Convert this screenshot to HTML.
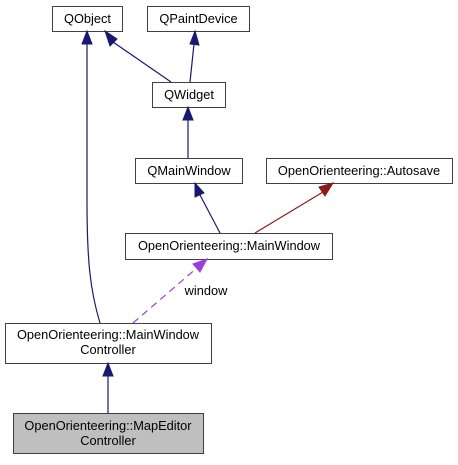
<!DOCTYPE html>
<html><head><style>
body{margin:0;background:#fff;width:458px;height:460px;overflow:hidden}
svg text{font-family:"Liberation Sans",sans-serif;font-size:12.8px;fill:#000}
</style></head><body>
<svg width="458" height="460" viewBox="0 0 458 460">
<g fill="#fff" stroke="#404040" stroke-width="1">
<rect x="52.5" y="6.5" width="70" height="25"/>
<rect x="147.5" y="6.5" width="102" height="25"/>
<rect x="152.5" y="82.5" width="73" height="25"/>
<rect x="135.5" y="158.5" width="107" height="25"/>
<rect x="266.5" y="158.5" width="186" height="25"/>
<rect x="125.5" y="233.5" width="207" height="26"/>
<rect x="5.5" y="323.5" width="206" height="40"/>
<rect x="13.5" y="413.5" width="190" height="40" fill="#bfbfbf"/>
</g>
<g text-anchor="middle">
<text x="87.5" y="23">QObject</text>
<text x="198.5" y="23">QPaintDevice</text>
<text x="189" y="99">QWidget</text>
<text x="189" y="175">QMainWindow</text>
<text x="359" y="175">OpenOrienteering::Autosave</text>
<text x="229" y="250">OpenOrienteering::MainWindow</text>
<text x="108" y="339">OpenOrienteering::MainWindow</text>
<text x="108" y="354">Controller</text>
<text x="108" y="430">OpenOrienteering::MapEditor</text>
<text x="108" y="445">Controller</text>
<text x="206" y="295">window</text>
</g>
<g stroke="#191970" stroke-width="1.2" fill="none">
<path d="M171,82 L113,42"/>
<path d="M190,82 L194,44"/>
<path d="M188,158 L188,120"/>
<path d="M220,233 L200,195"/>
<path d="M100,323 C90,290 87,260 87,200 L87,44"/>
<path d="M108,413 L108,376"/>
</g>
<g fill="#191970" stroke="#191970">
<polygon points="105,31 110,46 117,39"/>
<polygon points="195,31 190,44 199,45"/>
<polygon points="188,107 183,120 193,120"/>
<polygon points="195,183 195,197 204,193"/>
<polygon points="87,31 82,44 92,44"/>
<polygon points="108,363 103,376 113,376"/>
</g>
<path d="M255,233 L323,192" stroke="#8b1a1a" stroke-width="1.2"/>
<polygon points="333,183 319,187 325,196" fill="#8b1a1a" stroke="#8b1a1a"/>
<path d="M133,323 L198,267" stroke="#9a3fdc" stroke-width="1.2" stroke-dasharray="7,5"/>
<polygon points="207,259 193,264 200,272" fill="#9a3fdc" stroke="#9a3fdc"/>
</svg>
</body></html>
